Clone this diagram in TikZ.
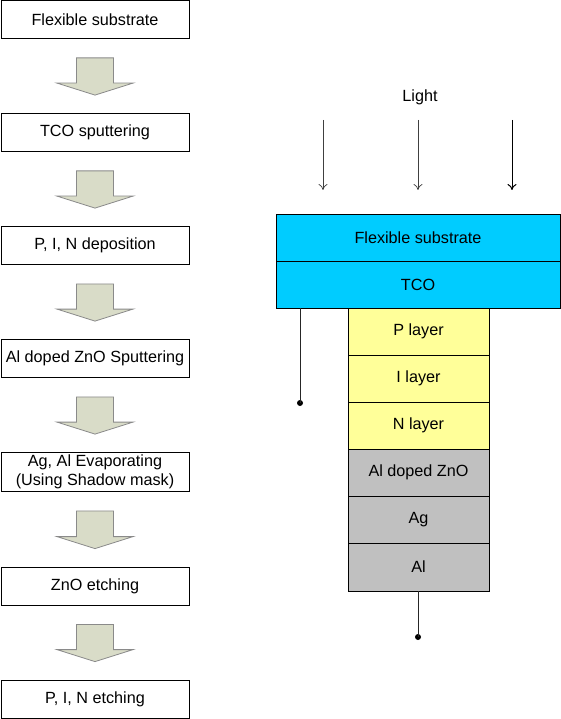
\documentclass[tikz,border=0pt]{standalone}
\usepackage{fontspec}
\setmainfont{Liberation Sans}
\usetikzlibrary{arrows.meta,calc}
\definecolor{cyanl}{HTML}{00CCFF}
\definecolor{yell}{HTML}{FFFF99}
\definecolor{grayl}{HTML}{C0C0C0}
\definecolor{arrfill}{HTML}{D9DCC8}
\definecolor{arredge}{HTML}{8A8A8A}
\tikzset{
  txt/.style={font=\fontsize{16.2}{19}\selectfont},
  stepbox/.style={txt, draw=black, line width=0.8pt, fill=white, minimum width=188pt, minimum height=38pt, inner sep=0pt, align=center},
  layer/.style={txt, draw=black, line width=0.8pt, minimum height=47pt, inner sep=0pt},
  toplayer/.style={layer, fill=cyanl, minimum width=284pt},
  midlayer/.style={layer, fill=yell, minimum width=141pt},
  botlayer/.style={layer, fill=grayl, minimum width=141pt},
  blockarrow/.style={fill=arrfill, draw=arredge, line width=0.8pt},
  lightarrow/.style={draw=black!75, line width=0.7pt, -{To[length=6pt,width=9pt]}},
  wire/.style={draw=black!85, line width=0.8pt},
  dot/.style={circle, fill=black, inner sep=0pt, minimum size=6pt},
}
\begin{document}
\begin{tikzpicture}[x=1pt,y=-1pt]
\fill[white] (0,0) rectangle (561,719);
\useasboundingbox (0,0) rectangle (561,719);
% left process steps
\node[stepbox] (s1) at (95,19.5) {Flexible substrate};
\node[stepbox] (s2) at (95,132.5) {TCO sputtering};
\node[stepbox] (s3) at (95,245.5) {P, I, N deposition};
\node[stepbox] (s4) at (95,358.5) {Al doped ZnO Sputtering};
\node[stepbox, minimum height=39pt] (s5) at (95,472) {Ag, Al Evaporating\\(Using Shadow mask)};
\node[stepbox] (s6) at (95,586) {ZnO etching};
\node[stepbox] (s7) at (95,699) {P, I, N etching};
% block arrows between steps
\foreach \a/\b in {s1/s2,s2/s3,s3/s4,s4/s5,s5/s6,s6/s7}{
  \path (\a.south) coordinate (bt) (\b.north) coordinate (tp);
  \path[blockarrow] ($(bt)+(-18.5,19)$) -- ($(bt)+(18.5,19)$) -- ($(tp)+(18.5,-30)$) -- ($(tp)+(38,-30)$)
     -- ($(tp)+(0,-18)$) -- ($(tp)+(-38,-30)$) -- ($(tp)+(-18.5,-30)$) -- cycle;
}
% right structure
\node[txt] (light) at (420,97) {Light};
\node[toplayer] (fs) at (418,237.5) {Flexible substrate};
\node[toplayer] (tco) at (418,284.5) {TCO};
\node[midlayer] (p) at (418.5,331.5) {P layer};
\node[midlayer] (i) at (418.5,378.5) {I layer};
\node[midlayer] (n) at (418.5,425.5) {N layer};
\node[botlayer] (azo) at (418.5,472.5) {Al doped ZnO};
\node[botlayer] (ag) at (418.5,519.5) {Ag};
\node[botlayer, minimum height=48pt] (al) at (418.5,567) {Al};
% light arrows
\coordinate (l1s) at (323,120); \coordinate (l1e) at (323,190);
\coordinate (l2s) at (418,120); \coordinate (l2e) at (418,190);
\coordinate (l3s) at (512,120); \coordinate (l3e) at (512,190);
\draw[lightarrow] (l1s) -- (l1e);
\draw[lightarrow] (l2s) -- (l2e);
\draw[lightarrow, draw=black, line width=1pt] (l3s) -- (l3e);
% wires
\node[dot] (d1) at (300,403) {};
\node[dot] (d2) at (418,637) {};
\draw[wire] (tco.south -| d1) -- (d1.center);
\draw[wire] (al.south -| d2) -- (d2.center);
\end{tikzpicture}
\end{document}
